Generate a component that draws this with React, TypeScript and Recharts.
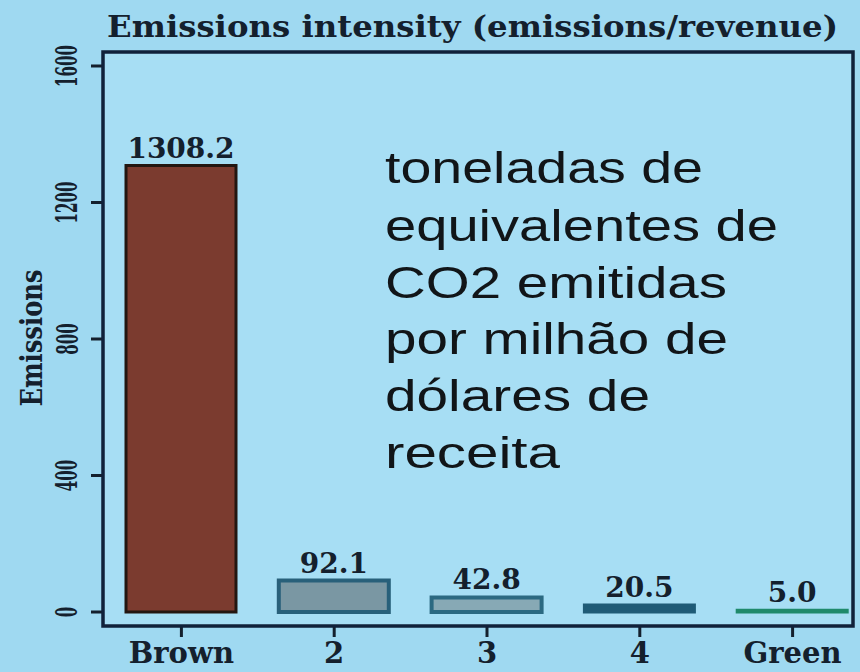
import React from "react";
import { BarChart, Bar, XAxis, YAxis, Cell, LabelList } from "recharts";

// values
const categories = ["Brown", "2", "3", "4", "Green"];
const emissions = [1308.2, 92.1, 42.8, 20.5, 5.0];
const yTicks = [0, 400, 800, 1200, 1600];
const noteLines = [
  "toneladas de",
  "equivalentes de",
  "CO2 emitidas",
  "por milhão de",
  "dólares de",
  "receita",
];

const fills = ["#7b3b2f", "#7a97a3", "#87a9b5", "#1f5b76", "#1f8a6b"];
const strokes = ["#231611", "#28607a", "#2b6981", "#1f5b76", "#1f8a6b"];
const strokeWidths = [3, 4, 4, 3, 3];

const data = categories.map((category, i) => ({ category, value: emissions[i] }));

const BG = "#9fd9f1";
const INK = "#14202d";
const SERIF = "'DejaVu Serif', serif";

// plot frame, in page pixels
const plot = { left: 103, top: 52, right: 853, bottom: 626 };

const XTick = (props: any) => {
  const { x, payload } = props;
  return (
    <text
      x={x}
      y={663}
      textAnchor="middle"
      fontFamily={SERIF}
      fontWeight="bold"
      fontSize={29}
      fill={INK}
    >
      {payload.value}
    </text>
  );
};

const YTick = (props: any) => {
  const { y, payload } = props;
  const s = String(payload.value);
  return (
    <text
      x={67}
      y={y}
      transform={`rotate(-90 67 ${y})`}
      textAnchor="middle"
      dominantBaseline="central"
      fontFamily={SERIF}
      fontWeight="bold"
      fontSize={30}
      textLength={10.5 * s.length}
      lengthAdjust="spacingAndGlyphs"
      fill={INK}
    >
      {s}
    </text>
  );
};

const ValueLabel = (props: any) => {
  const { x, y, width, value } = props;
  return (
    <text
      x={x + width / 2}
      y={y - 8}
      textAnchor="middle"
      fontFamily={SERIF}
      fontWeight="bold"
      fontSize={28}
      fill={INK}
    >
      {Number(value).toFixed(1)}
    </text>
  );
};

export default function App() {
  const noteBaselines = [183, 241, 298, 354, 411, 468];
  const noteWidths = [318, 393, 342, 343, 265, 175];

  return (
    <div
      style={{
        position: "absolute",
        left: 0,
        top: 0,
        width: 860,
        height: 672,
        background: BG,
        overflow: "hidden",
      }}
    >
      <div
        style={{
          position: "absolute",
          left: plot.left,
          top: plot.top,
          width: plot.right - plot.left,
          height: plot.bottom - plot.top,
          background: "#a7def4",
        }}
      />
      <div style={{ position: "absolute", left: 0, top: 0 }}>
        <BarChart
          width={860}
          height={672}
          data={data}
          margin={{ top: plot.top, right: 860 - plot.right, bottom: 0, left: 0 }}
        >
          <XAxis
            dataKey="category"
            height={672 - plot.bottom}
            interval={0}
            axisLine={false}
            tickSize={11}
            tickLine={{ stroke: INK, strokeWidth: 3 }}
            tick={<XTick />}
            padding={{ left: 2, right: -16 }}
          />
          <YAxis
            type="number"
            width={plot.left}
            domain={[-41, 1641]}
            ticks={yTicks}
            allowDataOverflow
            axisLine={false}
            tickSize={12}
            tickLine={{ stroke: INK, strokeWidth: 3 }}
            tick={<YTick />}
          />
          <Bar dataKey="value" barSize={110} isAnimationActive={false}>
            {data.map((d, i) => (
              <Cell key={d.category} fill={fills[i]} stroke={strokes[i]} strokeWidth={strokeWidths[i]} />
            ))}
            <LabelList dataKey="value" content={<ValueLabel />} />
          </Bar>
        </BarChart>
      </div>
      <svg
        width={860}
        height={672}
        style={{ position: "absolute", left: 0, top: 0, pointerEvents: "none" }}
      >
        <rect
          x={plot.left}
          y={plot.top}
          width={plot.right - plot.left}
          height={plot.bottom - plot.top}
          fill="none"
          stroke="#10213a"
          strokeWidth={3.5}
        />
        <text
          x={107}
          y={37}
          fontFamily={SERIF}
          fontWeight="bold"
          fontSize={30}
          textLength={731}
          lengthAdjust="spacingAndGlyphs"
          fill={INK}
        >
          Emissions intensity (emissions/revenue)
        </text>
        <text
          x={31}
          y={338}
          transform="rotate(-90 31 338)"
          textAnchor="middle"
          dominantBaseline="central"
          fontFamily={SERIF}
          fontWeight="bold"
          fontSize={30}
          textLength={137}
          lengthAdjust="spacingAndGlyphs"
          fill={INK}
        >
          Emissions
        </text>
        {noteLines.map((line, i) => (
          <text
            key={line}
            x={385}
            y={noteBaselines[i]}
            fontFamily="'Liberation Sans', Arial, sans-serif"
            fontSize={45}
            textLength={noteWidths[i]}
            lengthAdjust="spacingAndGlyphs"
            fill="#111518"
          >
            {line}
          </text>
        ))}
      </svg>
    </div>
  );
}
